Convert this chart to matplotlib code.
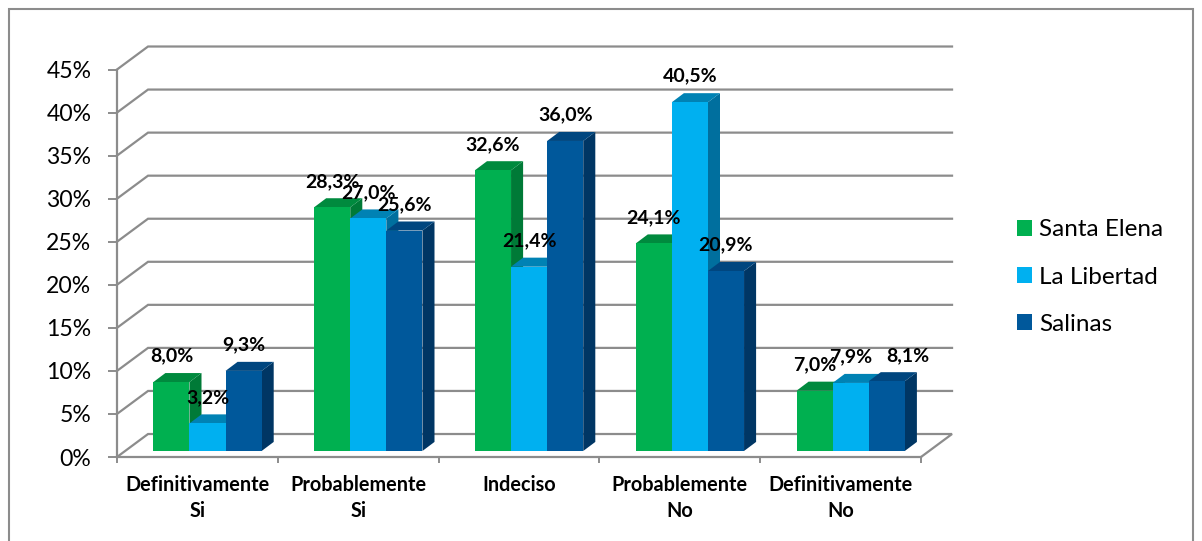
import matplotlib
matplotlib.use("Agg")
import matplotlib.pyplot as plt
from matplotlib.patches import Patch, Polygon, Rectangle

plt.rcParams["font.family"] = ["Lato", "DejaVu Sans"]

categories = ["Definitivamente\nSi", "Probablemente\nSi", "Indeciso", "Probablemente\nNo", "Definitivamente\nNo"]
series_names = ["Santa Elena", "La Libertad", "Salinas"]
santa_elena = [8.0, 28.3, 32.6, 24.1, 7.0]
la_libertad = [3.2, 27.0, 21.4, 40.5, 7.9]
salinas = [9.3, 25.6, 36.0, 20.9, 8.1]
y_ticks = [0, 5, 10, 15, 20, 25, 30, 35, 40, 45]

front_colors = ["#00B050", "#00B0F0", "#00589B"]
top_colors = ["#008A3E", "#0082B4", "#00467F"]
side_colors = ["#007A37", "#006F9E", "#003664"]
GREY = "#8C8C8C"

WALL_DX, WALL_DY = 0.193, 2.67
BAR_DX, BAR_DY = 0.075, 1.05
BAR_W, BAR_START, BASE = 0.2245, 0.226, 0.7


def draw_walls(ax):
    for tick in y_ticks[1:]:
        ax.plot([0, WALL_DX, 5 + WALL_DX], [tick, tick + WALL_DY, tick + WALL_DY],
                color=GREY, lw=1.6, clip_on=False, zorder=1, solid_joinstyle="miter")
    ax.plot([0, WALL_DX, 5 + WALL_DX, 5], [0, WALL_DY, WALL_DY, 0],
            color=GREY, lw=1.6, clip_on=False, zorder=1, solid_joinstyle="miter")


def draw_bar(ax, x, value, idx, z):
    top = BASE + value
    ax.bar(x, value, BAR_W, bottom=BASE, align="edge", color=front_colors[idx], zorder=z + 0.2)
    side = [(x + BAR_W, BASE), (x + BAR_W + BAR_DX, BASE + BAR_DY),
            (x + BAR_W + BAR_DX, top + BAR_DY), (x + BAR_W, top)]
    lid = [(x, top), (x + BAR_DX, top + BAR_DY), (x + BAR_W + BAR_DX, top + BAR_DY), (x + BAR_W, top)]
    ax.add_patch(Polygon(side, color=side_colors[idx], lw=0, clip_on=False, zorder=z))
    ax.add_patch(Polygon(lid, color=top_colors[idx], lw=0, clip_on=False, zorder=z + 0.1))


def main():
    fig = plt.figure(figsize=(12.02, 5.41), dpi=100)
    fig.add_artist(Rectangle((8.5 / 1202, -0.02), 1184.5 / 1202, 1 - 9 / 541 + 0.02, fill=False,
                             ec=GREY, lw=1.5, transform=fig.transFigure))
    ax = fig.add_axes([117 / 1202, (541 - 457) / 541, 804 / 1202, 387.5 / 541])
    ax.set_xlim(0, 5)
    ax.set_ylim(0, 45)
    ax.patch.set_alpha(0)
    for name in ["top", "right"]:
        ax.spines[name].set_visible(False)
    for name in ["left", "bottom"]:
        ax.spines[name].set_color(GREY)
        ax.spines[name].set_linewidth(1.6)
        ax.spines[name].set_zorder(1)

    draw_walls(ax)

    all_series = [santa_elena, la_libertad, salinas]
    for cat in range(len(categories)):
        for idx, values in enumerate(all_series):
            x = cat + BAR_START + idx * BAR_W
            draw_bar(ax, x, values[cat], idx, 2 + cat + idx * 0.5)
            # the last label sits off its bar in the original
            shift = 21 if (cat == 4 and idx == 2) else 0
            ax.annotate(f"{values[cat]:.1f}%".replace(".", ","),
                        (x + BAR_W / 2, BASE + values[cat]),
                        xytext=(shift * 0.72, 18.7), textcoords="offset points",
                        ha="center", va="center", fontsize=14, fontweight="bold",
                        color="black", zorder=20, annotation_clip=False)

    ax.set_yticks(y_ticks)
    ax.set_yticklabels([f"{t}%" for t in y_ticks], fontsize=16.6)
    ax.tick_params(axis="y", length=6.5, width=1.4, color=GREY, pad=12)
    ax.set_xticks(range(6))
    ax.set_xticklabels([])
    ax.tick_params(axis="x", which="major", length=4, width=1.4, color=GREY)
    ax.set_xticks([i + 0.5 for i in range(5)], minor=True)
    ax.set_xticklabels(categories, minor=True, fontsize=14.3, fontweight="bold", linespacing=1.4, va="top")
    ax.tick_params(axis="x", which="minor", length=0, pad=13)

    handles = [Patch(facecolor=c, edgecolor="none") for c in front_colors]
    fig.legend(handles, series_names, loc="center left", bbox_to_anchor=(1017 / 1202, 1 - 277 / 541),
               frameon=False, fontsize=17.5, handlelength=0.6, handleheight=0.6,
               handletextpad=0.3, labelspacing=1.07, borderaxespad=0, borderpad=0)

    fig.savefig("out.png", dpi=100)


if __name__ == "__main__":
    main()
